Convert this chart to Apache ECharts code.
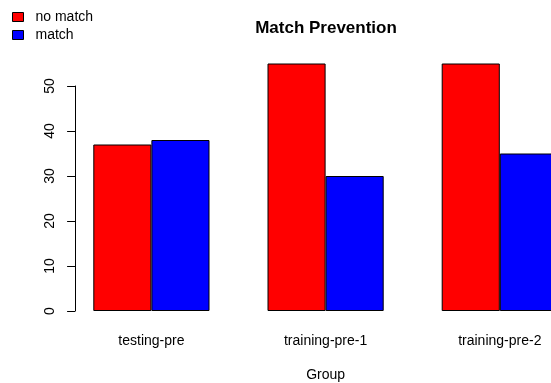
<!DOCTYPE html>
<html>
<head>
<meta charset="utf-8">
<script src="https://cdn.jsdelivr.net/npm/echarts@6/dist/echarts.min.js"></script>
<style>html,body{margin:0;padding:0;background:#fff;}#c{width:551px;height:383px;}</style>
</head>
<body>
<div id="c"></div>
<script>
const categories = ['testing-pre', 'training-pre-1', 'training-pre-2'];
const noMatch = [37, 55, 55];
const match = [38, 30, 35];
const seriesNames = ['no match', 'match'];
const yTicks = { min: 0, max: 50, interval: 10 };
const chartTitle = 'Match Prevention';
const xTitle = 'Group';

const FONT = 'Liberation Sans, Arial, sans-serif';
const chart = echarts.init(document.getElementById('c'), null, { renderer: 'canvas' });
chart.setOption({
  animation: false,
  backgroundColor: '#ffffff',
  graphic: [{
    type: 'text', x: 326, y: 28.5,
    style: { text: chartTitle, textAlign: 'center', textVerticalAlign: 'middle',
      font: 'bold 17px ' + FONT, fill: '#000' }
  }],
  legend: {
    orient: 'vertical', left: 12, top: 10, padding: 0, itemWidth: 11, itemHeight: 9, itemGap: 4,
    icon: 'rect',
    data: seriesNames,
    textStyle: { fontFamily: FONT, fontSize: 14, color: '#000', padding: [0, 0, 0, 7] },
    itemStyle: { borderColor: '#000', borderWidth: 1 }
  },
  grid: { left: 64.3, top: 86, width: 522.6, height: 225, containLabel: false, outerBoundsMode: 'none' },
  xAxis: {
    type: 'category', data: categories,
    axisLine: { show: false }, axisTick: { show: false },
    axisLabel: { fontFamily: FONT, fontSize: 14, color: '#000', margin: 23 },
    name: xTitle, nameLocation: 'middle', nameGap: 57,
    nameTextStyle: { fontFamily: FONT, fontSize: 14, color: '#000' }
  },
  yAxis: {
    type: 'value', min: yTicks.min, max: yTicks.max, interval: yTicks.interval,
    offset: -10.8,
    splitLine: { show: false },
    axisLine: { show: true, lineStyle: { color: '#000', width: 1 } },
    axisTick: { show: true, length: 8, lineStyle: { color: '#000' } },
    axisLabel: { fontFamily: FONT, fontSize: 14, color: '#000', rotate: 90, margin: 18 }
  },
  series: [
    { name: seriesNames[0], type: 'bar', data: noMatch, barWidth: 58.1, barGap: '0%', clip: false,
      itemStyle: { color: '#ff0000', borderColor: '#000', borderWidth: 1 } },
    { name: seriesNames[1], type: 'bar', data: match, barWidth: 58.1, barGap: '0%', clip: false,
      itemStyle: { color: '#0000ff', borderColor: '#000', borderWidth: 1 } }
  ]
});
</script>
</body>
</html>
